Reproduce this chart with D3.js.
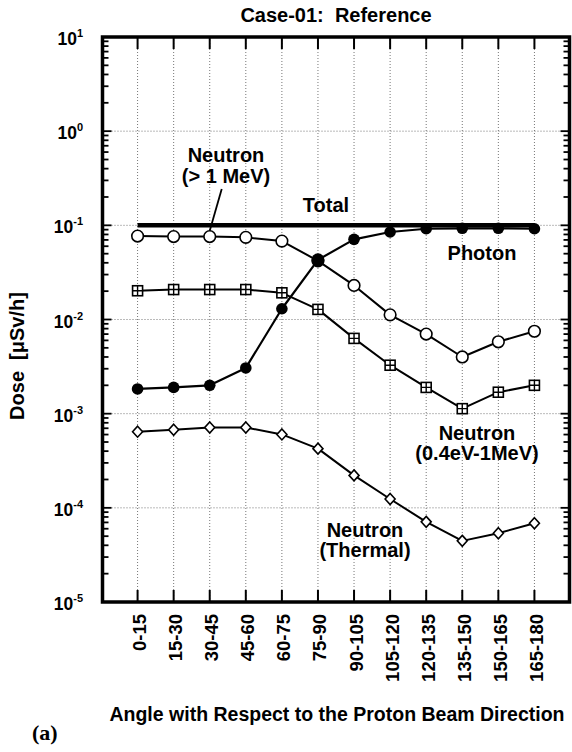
<!DOCTYPE html>
<html>
<head>
<meta charset="utf-8">
<script src="https://cdn.jsdelivr.net/npm/d3@7"></script>
<style>
  html, body { margin: 0; padding: 0; background: #fff; }
  svg { display: block; }
  text { font-family: "Liberation Sans", Arial, Helvetica, sans-serif; font-weight: bold; fill: #000; white-space: pre; }
</style>
</head>
<body>
<svg id="chart" width="572" height="752"></svg>
<script>
// ---- data ----
const categories = ["0-15","15-30","30-45","45-60","60-75","75-90","90-105","105-120","120-135","135-150","150-165","165-180"];
const total          = [0.1, 0.1, 0.1, 0.1, 0.1, 0.1, 0.1, 0.1, 0.1, 0.1, 0.1, 0.1];
const photon         = [0.00183, 0.0019, 0.0020, 0.00306, 0.013, 0.043, 0.071, 0.085, 0.092, 0.093, 0.093, 0.092];
const neutronFast    = [0.0769, 0.076, 0.076, 0.0745, 0.068, 0.042, 0.023, 0.0112, 0.0070, 0.0040, 0.0058, 0.0075];
const neutronEpi     = [0.0202, 0.0208, 0.0208, 0.0208, 0.0192, 0.0128, 0.0063, 0.00327, 0.0019, 0.00113, 0.00169, 0.0020];
const neutronThermal = [0.000644, 0.000675, 0.000714, 0.000714, 0.000602, 0.000425, 0.000221, 0.000124, 0.000071, 0.0000446, 0.0000537, 0.0000687];
const yTickExponents = [1, 0, -1, -2, -3, -4, -5];

const title = "Case-01:  Reference";
const xTitle = "Angle with Respect to the Proton Beam Direction";
const yTitle = "Dose  [\u03bcSv/h]";

// ---- layout ----
const L = 102.5, R = 569.5, T = 37, B = 602;
const svg = d3.select("#chart");

const x = d3.scaleLinear().domain([-1, 12]).range([101.5, 570.5]);
const y = d3.scaleLog().domain([1e-5, 10]).range([B, T]);

// grid
const g = svg.append("g");
g.selectAll("line.vg").data(categories).join("line")
  .attr("x1", (d,i) => x(i)).attr("x2", (d,i) => x(i))
  .attr("y1", T).attr("y2", B)
  .attr("stroke", "#666").attr("stroke-width", 0.9).attr("stroke-dasharray", "1,2");
g.selectAll("line.hg").data(yTickExponents.slice(1, -1)).join("line")
  .attr("x1", L).attr("x2", R)
  .attr("y1", d => y(Math.pow(10, d))).attr("y2", d => y(Math.pow(10, d)))
  .attr("stroke", "#666").attr("stroke-width", 0.9).attr("stroke-dasharray", "1,2");

// minor/major y ticks (left & right, inside)
const minorVals = [];
for (let e = -5; e < 1; e++) for (let m = 1; m <= 9; m++) minorVals.push({v: m * Math.pow(10, e), major: m === 1});
minorVals.push({v: 10, major: true});
[[L, 1], [R, -1]].forEach(([ax, dir]) => {
  g.selectAll(null).data(minorVals).join("line")
    .attr("x1", ax).attr("x2", d => ax + dir * (d.major ? 9 : 6))
    .attr("y1", d => y(d.v)).attr("y2", d => y(d.v))
    .attr("stroke", "#000").attr("stroke-width", 1.8);
});
// x ticks top & bottom (inside)
[[T, 1], [B, -1]].forEach(([ay, dir]) => {
  g.selectAll(null).data(categories).join("line")
    .attr("x1", (d,i) => x(i)).attr("x2", (d,i) => x(i))
    .attr("y1", ay).attr("y2", ay + dir * 12)
    .attr("stroke", "#000").attr("stroke-width", 2);
});

// frame
g.append("rect").attr("x", L).attr("y", T).attr("width", R - L).attr("height", B - T)
  .attr("fill", "none").attr("stroke", "#000").attr("stroke-width", 3.5);

// y tick labels
const yl = svg.append("g");
yTickExponents.forEach(e => {
  const t = yl.append("text").attr("x", 83).attr("y", y(Math.pow(10, e)) + 8)
    .attr("text-anchor", "end").attr("font-size", 17.5);
  t.append("tspan").text("10");
  t.append("tspan").attr("dy", -8).attr("font-size", 11).text(String(e));
});

// x tick labels
svg.append("g").selectAll("text").data(categories).join("text")
  .attr("transform", (d,i) => `translate(${x(i) + 2},${614}) rotate(-90)`)
  .attr("text-anchor", "end").attr("dy", "0.35em").attr("font-size", 18.5)
  .text(d => d);

// series
const line = d3.line().x((d,i) => x(i)).y(d => y(d));
function drawLine(data, w) {
  svg.append("path").datum(data).attr("d", line)
    .attr("fill", "none").attr("stroke", "#000").attr("stroke-width", w).attr("stroke-linejoin", "round");
}
drawLine(neutronThermal, 2);
drawLine(neutronEpi, 2);
drawLine(neutronFast, 2);
drawLine(total, 4.5);
drawLine(photon, 2.2);

// markers
const mk = svg.append("g");
mk.selectAll(null).data(neutronThermal).join("path")
  .attr("transform", (d,i) => `translate(${x(i)},${y(d)})`)
  .attr("d", "M0,-5.5L5,0L0,5.5L-5,0Z")
  .attr("fill", "#fff").attr("stroke", "#000").attr("stroke-width", 1.6);
const sq = mk.selectAll(null).data(neutronEpi).join("g")
  .attr("transform", (d,i) => `translate(${x(i)},${y(d)})`);
sq.append("rect").attr("x", -5).attr("y", -5).attr("width", 10).attr("height", 10)
  .attr("fill", "#fff").attr("stroke", "#000").attr("stroke-width", 1.6);
sq.append("path").attr("d", "M-5,0H5M0,-5V5").attr("stroke", "#000").attr("stroke-width", 1.4);
mk.selectAll(null).data(neutronFast).join("circle")
  .attr("cx", (d,i) => x(i)).attr("cy", d => y(d)).attr("r", 5.8)
  .attr("fill", "#fff").attr("stroke", "#000").attr("stroke-width", 1.6);
mk.selectAll(null).data(photon).join("circle")
  .attr("cx", (d,i) => x(i)).attr("cy", d => y(d)).attr("r", (d,i) => i === 5 ? 6.5 : 5.8)
  .attr("fill", "#000");

// annotations
const ann = svg.append("g").attr("font-size", 20);
function label(lines, cx, y0, dy) {
  lines.forEach((s, k) => ann.append("text").attr("x", cx).attr("y", y0 + k * dy)
    .attr("text-anchor", "middle").text(s));
}
label(["Neutron", "(> 1 MeV)"], 226, 162, 21);
svg.append("line").attr("x1", x(2) + 12).attr("y1", 189).attr("x2", x(2)).attr("y2", y(neutronFast[2]) - 5.8)
  .attr("stroke", "#000").attr("stroke-width", 1.8);
label(["Total"], 326, 212, 0);
label(["Photon"], 482, 260, 0);
label(["Neutron", "(0.4eV-1MeV)"], 477, 440, 20);
label(["Neutron", "(Thermal)"], 365, 537, 20);

// titles
svg.append("text").attr("x", 336).attr("y", 22).attr("text-anchor", "middle").attr("font-size", 20).text(title);
svg.append("text").attr("x", 337).attr("y", 721).attr("text-anchor", "middle").attr("font-size", 19.5).text(xTitle);
svg.append("text").attr("transform", "translate(24,356) rotate(-90)").attr("text-anchor", "middle")
  .attr("font-size", 20).text(yTitle);
svg.append("text").attr("x", 32).attr("y", 740).attr("font-size", 22)
  .style("font-family", "'Liberation Serif', 'Times New Roman', serif").text("(a)");
</script>
</body>
</html>
